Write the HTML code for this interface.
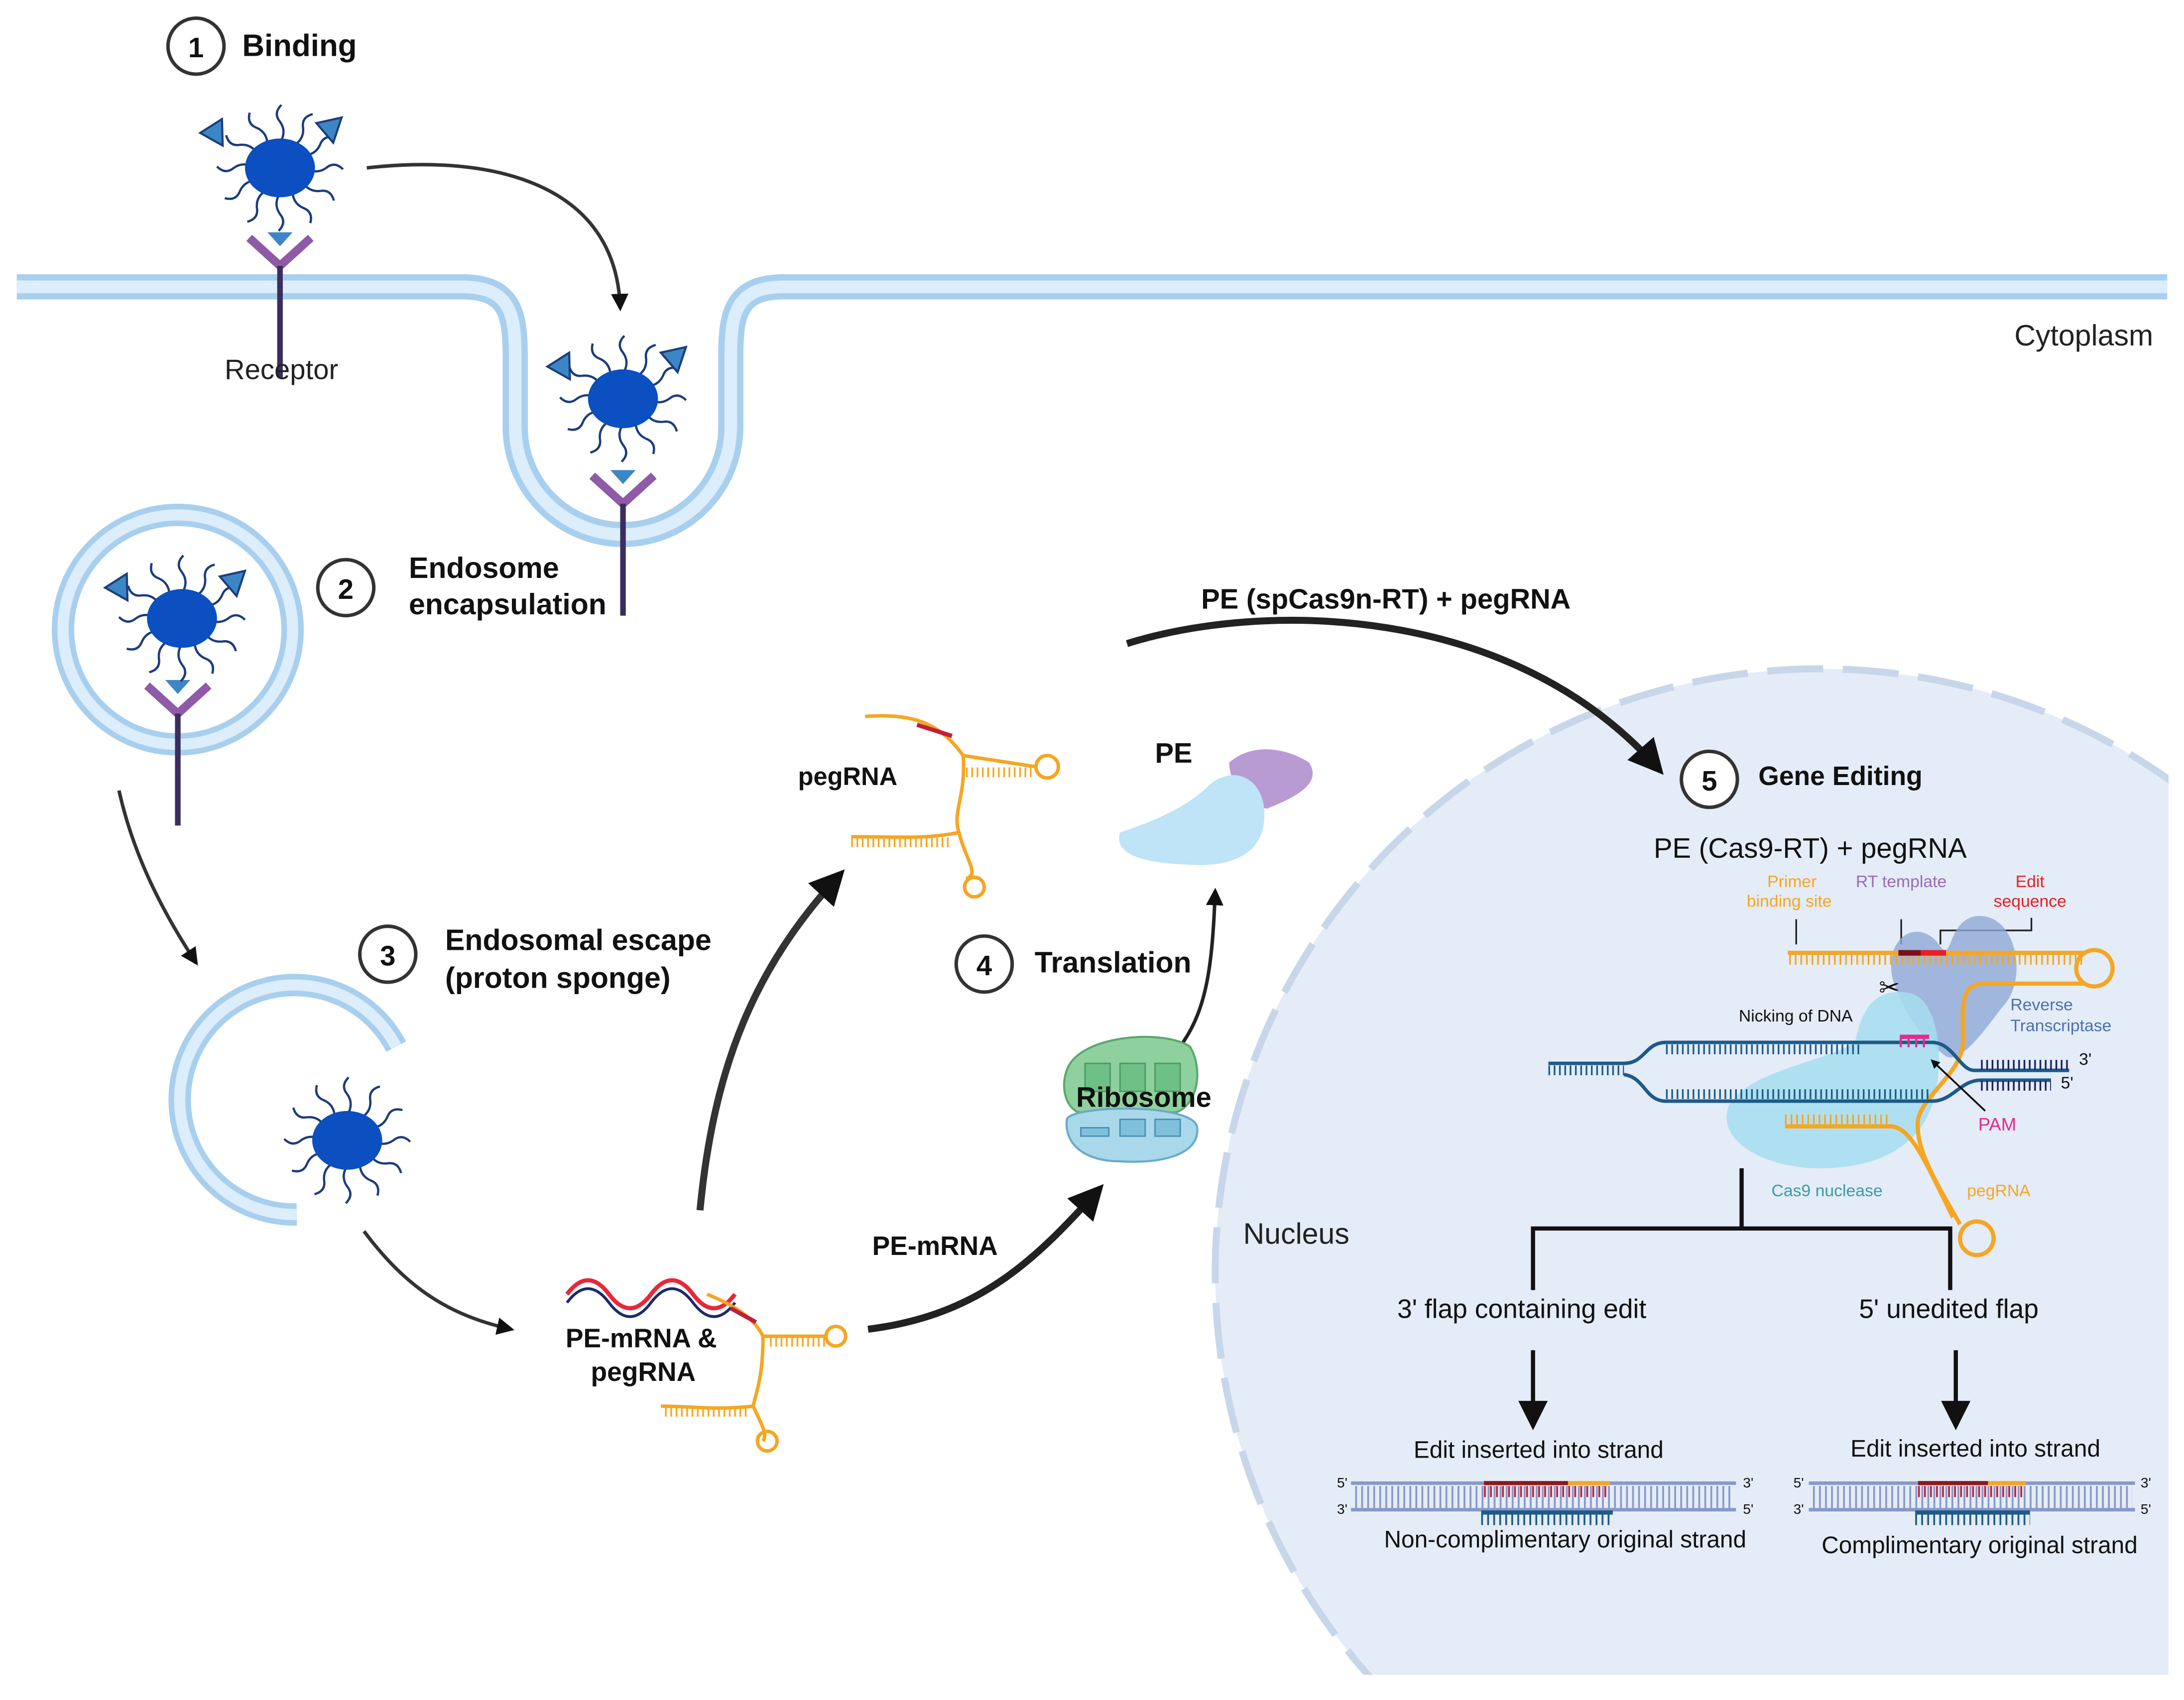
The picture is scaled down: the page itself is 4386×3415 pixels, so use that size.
<!DOCTYPE html>
<html><head><meta charset="utf-8"><style>
html,body{margin:0;padding:0;background:#fff;overflow:hidden;width:4386px;height:3415px;}
svg{display:block;}
text{font-family:"Liberation Sans",Arial,sans-serif;}
</style></head><body>
<svg width="4386" height="3415" viewBox="0 0 1560 1215" preserveAspectRatio="none" xmlns="http://www.w3.org/2000/svg">
<defs>
<clipPath id="nclip"><rect x="0" y="0" width="1549" height="1197"/></clipPath>
<marker id="ah" viewBox="0 0 10 10" refX="8" refY="5" markerWidth="5" markerHeight="5" orient="auto"><path d="M0,0 L10,5 L0,10 z" fill="#111"/></marker>
<marker id="ahs" viewBox="0 0 10 10" refX="8" refY="5" markerWidth="7" markerHeight="7" orient="auto"><path d="M0,0 L10,5 L0,10 z" fill="#111"/></marker>
<g id="arm"><path d="M0,-18 q5,-8 0,-15 q-5,-6 1,-12" fill="none" stroke="#1c3d7a" stroke-width="1.6"/></g>
<g id="np">
<use href="#arm"/><use href="#arm" transform="rotate(30)"/><use href="#arm" transform="rotate(60)"/><use href="#arm" transform="rotate(90)"/><use href="#arm" transform="rotate(120)"/><use href="#arm" transform="rotate(150)"/><use href="#arm" transform="rotate(180)"/><use href="#arm" transform="rotate(210)"/><use href="#arm" transform="rotate(240)"/><use href="#arm" transform="rotate(270)"/><use href="#arm" transform="rotate(300)"/><use href="#arm" transform="rotate(330)"/>
<ellipse cx="0" cy="0" rx="25" ry="21" fill="#0b4fc0"/>
</g>
<g id="tri"><path d="M0,0 L18,-4 L12,14 z" fill="#3d86c6" stroke="#1c3d7a" stroke-width="1.5"/></g>
<g id="rec"><path d="M-22,-10 L0,10 L22,-10" fill="none" stroke="#8f5aa8" stroke-width="6"/><line x1="0" y1="10" x2="0" y2="90" stroke="#3a2d60" stroke-width="4"/><path d="M-9,-14 L9,-14 L0,-4 z" fill="#3d86c6"/></g>
</defs>

<circle cx="1300" cy="910" r="432" fill="#e4ecf7" stroke="#c8d6ea" stroke-width="5" stroke-dasharray="40 14" clip-path="url(#nclip)"/>

<path d="M12,205 L330,205 C365,205 368,225 368,255 L368,305 A77,77 0 0 0 522,305 L522,255 C522,225 525,205 560,205 L1548,205" fill="none" stroke="#a8cfee" stroke-width="18"/>
<path d="M12,205 L330,205 C365,205 368,225 368,255 L368,305 A77,77 0 0 0 522,305 L522,255 C522,225 525,205 560,205 L1548,205" fill="none" stroke="#dcedfb" stroke-width="9"/>

<circle cx="127" cy="450" r="82" fill="none" stroke="#a8cfee" stroke-width="16"/>
<circle cx="127" cy="450" r="82" fill="none" stroke="#dcedfb" stroke-width="8"/>
<path d="M283,748 A82,82 0 1 0 212,868" fill="none" stroke="#a8cfee" stroke-width="16"/>
<path d="M283,748 A82,82 0 1 0 212,868" fill="none" stroke="#dcedfb" stroke-width="8"/>

<use href="#rec" transform="translate(200,180)"/>
<use href="#np" transform="translate(200,120)"/>
<use href="#tri" transform="translate(143,95) rotate(-20)"/>
<use href="#tri" transform="translate(226,88)"/>
<text x="201" y="271" font-size="20" text-anchor="middle" fill="#222">Receptor</text>

<use href="#rec" transform="translate(445,350)"/>
<use href="#np" transform="translate(445,285)"/>
<use href="#tri" transform="translate(391,262) rotate(-20)"/>
<use href="#tri" transform="translate(472,252)"/>

<use href="#rec" transform="translate(127,500)"/>
<use href="#np" transform="translate(130,442)"/>
<use href="#tri" transform="translate(75,420) rotate(-20)"/>
<use href="#tri" transform="translate(157,412)"/>

<use href="#np" transform="translate(248,815)"/>

<path d="M262,120 C350,110 440,130 443,220" fill="none" stroke="#333" stroke-width="2.5" marker-end="url(#ah)"/>
<path d="M85,565 C95,610 115,650 140,688" fill="none" stroke="#333" stroke-width="2.5" marker-end="url(#ah)"/>
<path d="M260,880 C290,920 320,940 365,950" fill="none" stroke="#333" stroke-width="2.5" marker-end="url(#ah)"/>
<path d="M500,865 C510,760 540,690 600,625" fill="none" stroke="#333" stroke-width="5" marker-end="url(#ah)"/>
<path d="M620,950 C700,940 740,900 785,850" fill="none" stroke="#222" stroke-width="5" marker-end="url(#ah)"/>
<path d="M845,745 C862,720 866,690 868,637" fill="none" stroke="#222" stroke-width="2.5" marker-end="url(#ah)"/>
<path d="M805,460 C900,430 1080,430 1185,550" fill="none" stroke="#222" stroke-width="5" marker-end="url(#ah)"/>

<g font-weight="bold" fill="#111">
<circle cx="140" cy="33" r="20" fill="#fff" stroke="#333" stroke-width="2.5"/><text x="140" y="41" font-size="20" text-anchor="middle">1</text>
<text x="173" y="40" font-size="22">Binding</text>
<circle cx="247" cy="420" r="20" fill="#fff" stroke="#333" stroke-width="2.5"/><text x="247" y="428" font-size="20" text-anchor="middle">2</text>
<text x="292" y="413" font-size="21">Endosome</text><text x="292" y="439" font-size="21">encapsulation</text>
<circle cx="277" cy="682" r="20" fill="#fff" stroke="#333" stroke-width="2.5"/><text x="277" y="690" font-size="20" text-anchor="middle">3</text>
<text x="318" y="679" font-size="21">Endosomal escape</text><text x="318" y="706" font-size="21">(proton sponge)</text>
<circle cx="703" cy="689" r="20" fill="#fff" stroke="#333" stroke-width="2.5"/><text x="703" y="697" font-size="20" text-anchor="middle">4</text>
<text x="739" y="695" font-size="21">Translation</text>
<circle cx="1221" cy="557" r="20" fill="#fff" stroke="#333" stroke-width="2.5"/><text x="1221" y="565" font-size="20" text-anchor="middle">5</text>
<text x="1256" y="561" font-size="19">Gene Editing</text>
<text x="858" y="435" font-size="20">PE (spCas9n-RT) + pegRNA</text>
<text x="570" y="561" font-size="18">pegRNA</text>
<text x="825" y="545" font-size="20">PE</text>
<text x="623" y="897" font-size="19">PE-mRNA</text>
<text x="404" y="963" font-size="19">PE-mRNA &amp;</text>
<text x="422" y="987" font-size="19">pegRNA</text>
</g>
<text x="1538" y="247" font-size="21" text-anchor="end" fill="#222">Cytoplasm</text>
<text x="888" y="889" font-size="21" fill="#222">Nucleus</text>

<g fill="none">
<path d="M618,512 C650,510 670,515 688,540 L740,548 M688,540 C690,570 680,580 685,595 C660,600 640,598 608,598 M685,595 C690,615 700,625 690,628" stroke="#f5a623" stroke-width="2.5"/>
<line x1="690" y1="552" x2="738" y2="552" stroke="#f5a623" stroke-width="7" stroke-dasharray="1.2 2.6"/>
<line x1="608" y1="602" x2="680" y2="602" stroke="#f5a623" stroke-width="7" stroke-dasharray="1.2 2.6"/>
<circle cx="748" cy="548" r="8" stroke="#f5a623" stroke-width="2.5"/>
<circle cx="696" cy="634" r="7" stroke="#f5a623" stroke-width="2.5"/>
<path d="M655,518 L680,526" stroke="#c0203a" stroke-width="3"/>
</g>
<path d="M878,545 C895,530 920,535 935,545 C945,560 925,570 905,578 C890,575 878,560 878,545 z" fill="#b99bd4"/>
<path d="M800,595 C830,585 850,575 865,560 C885,545 905,560 903,585 C902,610 880,620 850,618 C820,617 795,612 800,595 z" fill="#bfe3f7"/>

<path d="M762,765 C770,740 830,735 850,748 C860,765 855,790 840,795 L770,795 C760,790 758,775 762,765 z" fill="#8fd19e" stroke="#5aa870" stroke-width="1.5"/>
<rect x="775" y="760" width="18" height="20" fill="#6fc087" stroke="#4a9a62"/><rect x="800" y="760" width="18" height="20" fill="#6fc087" stroke="#4a9a62"/><rect x="825" y="760" width="18" height="20" fill="#6fc087" stroke="#4a9a62"/>
<path d="M762,800 C765,790 850,788 855,805 C858,825 830,832 800,830 C775,830 760,818 762,800 z" fill="#a9d8ea" stroke="#6aaac8" stroke-width="1.5"/>
<rect x="800" y="800" width="18" height="12" fill="#7fc0dc" stroke="#4b8fb0"/><rect x="825" y="800" width="18" height="12" fill="#7fc0dc" stroke="#4b8fb0"/><rect x="772" y="806" width="20" height="6" fill="#7fc0dc" stroke="#4b8fb0"/>
<text x="817" y="791" font-size="20" font-weight="bold" text-anchor="middle" fill="#111">Ribosome</text>

<path d="M405,925 q15,-20 30,0 t30,0 t30,0 t30,0" fill="none" stroke="#e8283a" stroke-width="3"/>
<path d="M405,928 q15,-20 30,0 t30,0 t30,0 t30,0" fill="none" stroke="#1a2a6a" stroke-width="2" transform="translate(0,3)"/>
<g fill="none">
<path d="M505,925 C530,935 540,945 545,955 L590,955 M545,955 C545,985 540,995 538,1005 C510,1008 495,1005 472,1005 M538,1005 C545,1020 548,1025 545,1030" stroke="#f5a623" stroke-width="2.5"/>
<line x1="550" y1="959" x2="590" y2="959" stroke="#f5a623" stroke-width="7" stroke-dasharray="1.2 2.6"/>
<line x1="475" y1="1009" x2="535" y2="1009" stroke="#f5a623" stroke-width="7" stroke-dasharray="1.2 2.6"/>
<circle cx="597" cy="955" r="7" stroke="#f5a623" stroke-width="2.5"/>
<circle cx="548" cy="1030" r="7" stroke="#f5a623" stroke-width="2.5"/>
<path d="M522,935 L540,945" stroke="#c0203a" stroke-width="3"/>
</g>

<text x="1293" y="613" font-size="20" text-anchor="middle" fill="#111">PE (Cas9-RT) + pegRNA</text>
<text x="1280" y="634" font-size="12" text-anchor="middle" fill="#f5a623">Primer</text>
<text x="1278" y="648" font-size="12" text-anchor="middle" fill="#f5a623">binding site</text>
<text x="1358" y="634" font-size="12" text-anchor="middle" fill="#9a6ab8">RT template</text>
<text x="1450" y="634" font-size="12" text-anchor="middle" fill="#e81d25">Edit</text>
<text x="1450" y="648" font-size="12" text-anchor="middle" fill="#e81d25">sequence</text>
<path d="M1283,657 L1283,675 M1358,657 L1358,675 M1451,656 L1451,665 L1386,665 L1386,675" fill="none" stroke="#222" stroke-width="1.2"/>
<path d="M1352,700 C1345,670 1370,655 1385,675 C1395,690 1390,660 1410,655 C1440,650 1450,700 1430,720 C1415,740 1400,760 1390,755 C1370,740 1358,720 1352,700 z" fill="#8ea9d6" opacity="0.8"/>
<path d="M1235,790 C1250,765 1300,760 1325,745 C1330,720 1340,705 1365,710 C1385,715 1390,760 1380,790 C1370,820 1340,835 1300,835 C1260,835 1225,815 1235,790 z" fill="#a6def0" opacity="0.85"/>
<line x1="1277" y1="681" x2="1490" y2="681" stroke="#f5a623" stroke-width="3"/>
<line x1="1278" y1="686" x2="1490" y2="686" stroke="#f5a623" stroke-width="7" stroke-dasharray="1.2 2.8"/>
<line x1="1356" y1="681" x2="1372" y2="681" stroke="#7a0f18" stroke-width="4"/>
<line x1="1372" y1="681" x2="1390" y2="681" stroke="#e81d25" stroke-width="4"/>
<line x1="1415" y1="703" x2="1490" y2="703" stroke="#f5a623" stroke-width="3"/>
<circle cx="1496" cy="692" r="13" fill="none" stroke="#f5a623" stroke-width="3"/>
<path d="M1415,703 C1400,705 1402,720 1402,740 C1405,765 1375,780 1370,800 C1368,820 1380,840 1400,875" fill="none" stroke="#f5a623" stroke-width="3"/>
<path d="M1275,805 L1350,805 C1365,805 1375,830 1395,870" fill="none" stroke="#f5a623" stroke-width="3"/>
<line x1="1275" y1="800" x2="1350" y2="800" stroke="#f5a623" stroke-width="7" stroke-dasharray="1.2 2.8"/>
<circle cx="1412" cy="885" r="12" fill="none" stroke="#f5a623" stroke-width="3"/>
<path d="M1106,760 L1160,760 C1175,760 1175,745 1190,745 L1380,745 C1395,745 1400,765 1410,765 L1478,765" fill="none" stroke="#1d5a8a" stroke-width="2.5"/>
<line x1="1106" y1="765" x2="1160" y2="765" stroke="#1d5a8a" stroke-width="7" stroke-dasharray="1.2 2.6"/>
<line x1="1190" y1="750" x2="1330" y2="750" stroke="#1d5a8a" stroke-width="7" stroke-dasharray="1.2 2.6"/>
<path d="M1160,768 C1175,770 1175,787 1190,787 L1380,787 C1395,787 1400,772 1415,772 L1465,772" fill="none" stroke="#1d5a8a" stroke-width="2.5"/>
<line x1="1190" y1="782" x2="1380" y2="782" stroke="#1d5a8a" stroke-width="7" stroke-dasharray="1.2 2.6"/>
<line x1="1415" y1="761" x2="1478" y2="761" stroke="#1b1f5e" stroke-width="7" stroke-dasharray="1.2 2.6"/>
<line x1="1415" y1="776" x2="1465" y2="776" stroke="#1b1f5e" stroke-width="7" stroke-dasharray="1.2 2.6"/>
<line x1="1357" y1="741" x2="1378" y2="741" stroke="#e8288f" stroke-width="3"/>
<line x1="1357" y1="745" x2="1378" y2="745" stroke="#e8288f" stroke-width="7" stroke-dasharray="1.5 4"/>
<text x="1485" y="761" font-size="12" fill="#111">3'</text>
<text x="1472" y="778" font-size="12" fill="#111">5'</text>
<text x="1242" y="730" font-size="12" fill="#111">Nicking of DNA</text>
<text x="1342" y="712" font-size="18" fill="#111">✂</text>
<line x1="1418" y1="794" x2="1380" y2="758" stroke="#111" stroke-width="1.3" marker-end="url(#ah)"/>
<text x="1413" y="808" font-size="13" fill="#e8288f">PAM</text>
<text x="1436" y="722" font-size="12" fill="#4a72b0">Reverse</text>
<text x="1436" y="737" font-size="12" fill="#4a72b0">Transcriptase</text>
<text x="1305" y="855" font-size="12" text-anchor="middle" fill="#3d9aa8">Cas9 nuclease</text>
<text x="1405" y="855" font-size="12" fill="#f5a623">pegRNA</text>

<path d="M1244,835 L1244,878 M1095,922 L1095,878 L1393,878 L1393,922" fill="none" stroke="#111" stroke-width="3"/>
<text x="1087" y="942" font-size="19" text-anchor="middle" fill="#111">3' flap containing edit</text>
<text x="1392" y="942" font-size="19" text-anchor="middle" fill="#111">5' unedited flap</text>
<line x1="1095" y1="965" x2="1095" y2="1018" stroke="#111" stroke-width="3" marker-end="url(#ahs)"/>
<line x1="1397" y1="965" x2="1397" y2="1018" stroke="#111" stroke-width="3" marker-end="url(#ahs)"/>
<text x="1099" y="1042" font-size="17" text-anchor="middle" fill="#111">Edit inserted into strand</text>
<text x="1411" y="1041" font-size="17" text-anchor="middle" fill="#111">Edit inserted into strand</text>

<g>
<line x1="965" y1="1060" x2="1240" y2="1060" stroke="#8898c8" stroke-width="2.5"/>
<line x1="965" y1="1079" x2="1240" y2="1079" stroke="#8898c8" stroke-width="2.5"/>
<line x1="968" y1="1070" x2="1238" y2="1070" stroke="#8898c8" stroke-width="16" stroke-dasharray="1.3 3"/>
<line x1="1060" y1="1060" x2="1120" y2="1060" stroke="#8b1a1a" stroke-width="3"/>
<line x1="1120" y1="1060" x2="1150" y2="1060" stroke="#f5a623" stroke-width="3"/>
<line x1="1060" y1="1066" x2="1150" y2="1066" stroke="#c0203a" stroke-width="8" stroke-dasharray="1.3 3"/>
<line x1="1058" y1="1081" x2="1152" y2="1081" stroke="#1d5a8a" stroke-width="3"/>
<line x1="1058" y1="1086" x2="1152" y2="1086" stroke="#1d5a8a" stroke-width="8" stroke-dasharray="1.3 3"/>
<text x="955" y="1063" font-size="10" fill="#111">5'</text><text x="955" y="1082" font-size="10" fill="#111">3'</text>
<text x="1245" y="1063" font-size="10" fill="#111">3'</text><text x="1245" y="1082" font-size="10" fill="#111">5'</text>
</g>
<text x="1118" y="1106" font-size="17" text-anchor="middle" fill="#111">Non-complimentary original strand</text>
<g>
<line x1="1292" y1="1060" x2="1525" y2="1060" stroke="#8898c8" stroke-width="2.5"/>
<line x1="1292" y1="1079" x2="1525" y2="1079" stroke="#8898c8" stroke-width="2.5"/>
<line x1="1295" y1="1070" x2="1523" y2="1070" stroke="#8898c8" stroke-width="16" stroke-dasharray="1.3 3"/>
<line x1="1370" y1="1060" x2="1420" y2="1060" stroke="#8b1a1a" stroke-width="3"/>
<line x1="1420" y1="1060" x2="1447" y2="1060" stroke="#f5a623" stroke-width="3"/>
<line x1="1370" y1="1066" x2="1447" y2="1066" stroke="#c0203a" stroke-width="8" stroke-dasharray="1.3 3"/>
<line x1="1368" y1="1081" x2="1450" y2="1081" stroke="#1d5a8a" stroke-width="3"/>
<line x1="1368" y1="1086" x2="1450" y2="1086" stroke="#1d5a8a" stroke-width="8" stroke-dasharray="1.3 3"/>
<text x="1281" y="1063" font-size="10" fill="#111">5'</text><text x="1281" y="1082" font-size="10" fill="#111">3'</text>
<text x="1529" y="1063" font-size="10" fill="#111">3'</text><text x="1529" y="1082" font-size="10" fill="#111">5'</text>
</g>
<text x="1414" y="1110" font-size="17" text-anchor="middle" fill="#111">Complimentary original strand</text>
</svg>
</body></html>
